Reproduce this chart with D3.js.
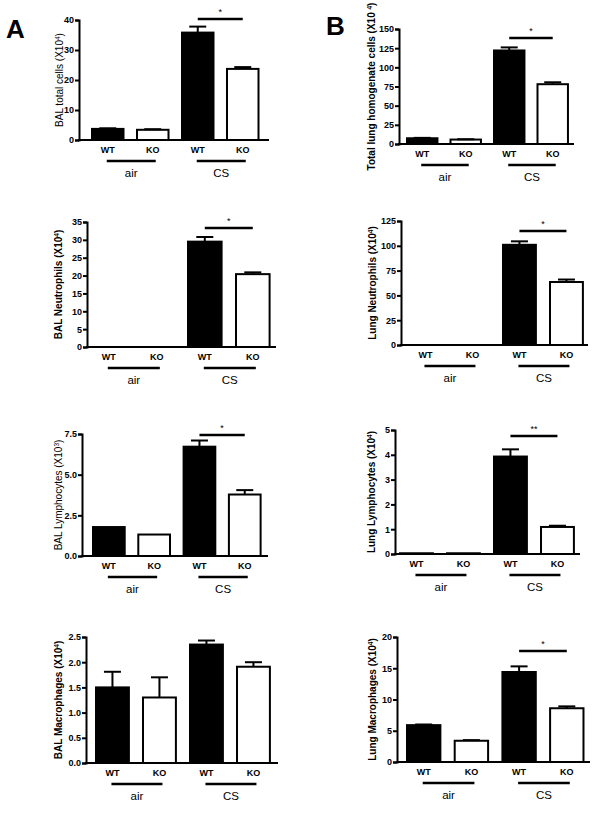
<!DOCTYPE html>
<html>
<head>
<meta charset="utf-8">
<script src="https://cdn.jsdelivr.net/npm/d3@7"></script>
<style>
  body { margin: 0; background: #fff; }
  svg { font-family: "Liberation Sans", Arial, sans-serif; }
</style>
</head>
<body>
<div id="fig"></div>
<script>
// categories
var groups = ["WT-air", "KO-air", "WT-CS", "KO-CS"];
var genotypes = ["WT", "KO", "WT", "KO"];
var exposures = ["air", "CS"];

// values (mean) and upper error (mean + SEM)
var balTotal = [3.7, 3.4, 35.8, 23.7];
var balTotalErr = [3.9, 3.6, 37.8, 24.3];
var lungTotal = [7.5, 5.8, 122, 78];
var lungTotalErr = [8, 6.2, 126, 80.5];
var balNeut = [0, 0, 29.5, 20.4];
var balNeutErr = [0, 0, 30.8, 20.9];
var lungNeut = [0, 0, 101, 63.5];
var lungNeutErr = [0, 0, 104.5, 66];
var balLymph = [1.78, 1.32, 6.72, 3.78];
var balLymphErr = [1.78, 1.32, 7.1, 4.05];
var lungLymph = [0.03, 0.03, 3.93, 1.09];
var lungLymphErr = [0.03, 0.03, 4.22, 1.14];
var balMac = [1.5, 1.3, 2.35, 1.91];
var balMacErr = [1.81, 1.7, 2.43, 2.0];
var lungMac = [5.9, 3.4, 14.4, 8.6];
var lungMacErr = [6.0, 3.5, 15.3, 8.9];

// tick labels
var ticksTotalBal = [0, 10, 20, 30, 40];
var ticksTotalLung = [0, 25, 50, 75, 100, 125, 150];
var ticksNeutBal = [0, 5, 10, 15, 20, 25, 30, 35];
var ticksNeutLung = [0, 25, 50, 75, 100, 125];
var ticksLymphBal = [0, 2.5, 5, 7.5];
var ticksLymphLung = [0, 1, 2, 3, 4, 5];
var ticksMacBal = [0, 0.5, 1, 1.5, 2, 2.5];
var ticksMacLung = [0, 5, 10, 15, 20];

var svg = d3.select("#fig").append("svg")
    .attr("width", 600)
    .attr("height", 813);

// panel letters
svg.append("text").attr("x", 6).attr("y", 38)
    .style("font-size", "26px").style("font-weight", "bold").text("A");
svg.append("text").attr("x", 326).attr("y", 35)
    .style("font-size", "26px").style("font-weight", "bold").text("B");

var panels = [
  { vals: balTotal, err: balTotalErr, ticks: ticksTotalBal, fmt: "d",
    label: "BAL total cells (X10", sup: "4", bold: false,
    left: 79, top: 20, bottom: 140, right: 269, bar0: 92, step: 45,
    labX: 60, sig: "*", sigY: 19 },
  { vals: lungTotal, err: lungTotalErr, ticks: ticksTotalLung, fmt: "d",
    label: "Total lung homogenate cells (X10 ", sup: "4", bold: true,
    left: 399, top: 29, bottom: 144, right: 574, bar0: 407, step: 43.5,
    labX: 372, sig: "*", sigY: 38 },
  { vals: balNeut, err: balNeutErr, ticks: ticksNeutBal, fmt: "d",
    label: "BAL Neutrophils (X10", sup: "4", bold: true,
    left: 87, top: 222, bottom: 347, right: 276, bar0: 92, step: 48,
    labX: 59, sig: "*", sigY: 228 },
  { vals: lungNeut, err: lungNeutErr, ticks: ticksNeutLung, fmt: "d",
    label: "Lung Neutrophils (X10", sup: "4", bold: true,
    left: 401, top: 221, bottom: 345, right: 588, bar0: 409, step: 47,
    labX: 373, sig: "*", sigY: 231 },
  { vals: balLymph, err: balLymphErr, ticks: ticksLymphBal, fmt: ".1f",
    label: "BAL Lymphocytes (X10", sup: "3", bold: false,
    left: 82, top: 434, bottom: 556, right: 268, bar0: 93, step: 45.3,
    labX: 59, sig: "*", sigY: 435 },
  { vals: lungLymph, err: lungLymphErr, ticks: ticksLymphLung, fmt: "d",
    label: "Lung Lymphocytes (X10", sup: "4", bold: true,
    left: 395, top: 430, bottom: 554, right: 580, bar0: 400, step: 47,
    labX: 372, sig: "**", sigY: 436 },
  { vals: balMac, err: balMacErr, ticks: ticksMacBal, fmt: ".1f",
    label: "BAL Macrophages (X10", sup: "4", bold: true,
    left: 86, top: 637, bottom: 763, right: 278, bar0: 96, step: 47,
    labX: 59, sig: null, sigY: 0 },
  { vals: lungMac, err: lungMacErr, ticks: ticksMacLung, fmt: "d",
    label: "Lung Macrophages (X10", sup: "4", bold: true,
    left: 397, top: 637, bottom: 762, right: 590, bar0: 407, step: 47.7,
    labX: 373, sig: "*", sigY: 651 }
];

var pIn = 0.3, pOut = 0.15;

panels.forEach(function (p) {
  var g = svg.append("g");

  var y = d3.scaleLinear()
      .domain([0, d3.max(p.ticks)])
      .range([p.bottom, p.top]);

  var r0 = p.bar0 - p.step * pOut;
  var x = d3.scaleBand()
      .domain(groups)
      .range([r0, r0 + p.step * (groups.length - pIn + 2 * pOut)])
      .paddingInner(pIn)
      .paddingOuter(pOut);
  var bw = x.bandwidth();
  var cx = function (d) { return x(d) + bw / 2; };

  // bars
  g.selectAll("rect.bar")
    .data(groups)
    .enter().append("rect")
    .attr("x", d => x(d))
    .attr("width", bw)
    .attr("y", (d, i) => y(p.vals[i]))
    .attr("height", (d, i) => Math.max(0, p.bottom - y(p.vals[i])))
    .attr("fill", (d, i) => i % 2 === 0 ? "#000" : "#fff")
    .attr("stroke", "#000")
    .attr("stroke-width", 2);

  // error bars (upper only)
  groups.forEach(function (d, i) {
    if (p.err[i] - p.vals[i] <= 0) return;
    g.append("line")
      .attr("x1", cx(d)).attr("x2", cx(d))
      .attr("y1", y(p.vals[i])).attr("y2", y(p.err[i]))
      .attr("stroke", "#000").attr("stroke-width", 2);
    g.append("line")
      .attr("x1", cx(d) - 8.5).attr("x2", cx(d) + 8.5)
      .attr("y1", y(p.err[i])).attr("y2", y(p.err[i]))
      .attr("stroke", "#000").attr("stroke-width", 2);
  });

  // y axis
  var yAxis = g.append("g")
    .attr("transform", "translate(" + p.left + ",0)")
    .call(d3.axisLeft(y).tickValues(p.ticks).tickSize(4).tickPadding(1)
      .tickFormat(d3.format(p.fmt)));
  yAxis.select(".domain").attr("stroke-width", 2);
  yAxis.selectAll(".tick line").attr("stroke-width", 2);
  yAxis.selectAll("text")
    .style("font-size", "9px").style("font-weight", "bold")
    .style("font-family", "Liberation Sans, Arial, sans-serif");

  // x axis
  g.append("line")
    .attr("x1", p.left - 1).attr("x2", p.right)
    .attr("y1", p.bottom).attr("y2", p.bottom)
    .attr("stroke", "#000").attr("stroke-width", 2);

  var xAxis = g.append("g")
    .attr("transform", "translate(0," + p.bottom + ")")
    .call(d3.axisBottom(x).tickSize(0).tickPadding(7)
      .tickFormat((d, i) => genotypes[i]));
  xAxis.select(".domain").remove();
  xAxis.selectAll("text")
    .style("font-size", "9px").style("font-weight", "bold")
    .style("font-family", "Liberation Sans, Arial, sans-serif");

  // exposure group lines
  exposures.forEach(function (e, k) {
    var a = groups[2 * k], b = groups[2 * k + 1];
    var gy = p.bottom + 21;
    g.append("line")
      .attr("x1", cx(a) - 1).attr("x2", cx(b) + 3)
      .attr("y1", gy).attr("y2", gy)
      .attr("stroke", "#000").attr("stroke-width", 2.5);
    g.append("text")
      .attr("x", (cx(a) + cx(b)) / 2 + 1)
      .attr("y", gy + 16)
      .attr("text-anchor", "middle")
      .style("font-size", "11.5px")
      .text(e);
  });

  // significance line
  if (p.sig) {
    g.append("line")
      .attr("x1", cx(groups[2])).attr("x2", cx(groups[3]))
      .attr("y1", p.sigY).attr("y2", p.sigY)
      .attr("stroke", "#000").attr("stroke-width", 2.5);
    g.append("text")
      .attr("x", (cx(groups[2]) + cx(groups[3])) / 2)
      .attr("y", p.sigY - 4)
      .attr("text-anchor", "middle")
      .style("font-size", "9px")
      .text(p.sig);
  }

  // y label
  var cy = (p.top + p.bottom) / 2;
  var lab = g.append("text")
    .attr("transform", "translate(" + (p.labX + 3) + "," + cy + ") rotate(-90)")
    .attr("text-anchor", "middle")
    .style("font-size", "10px")
    .style("font-weight", p.bold ? "bold" : "normal");
  lab.append("tspan").text(p.label);
  lab.append("tspan").attr("baseline-shift", "super").style("font-size", "6.5px").text(p.sup);
  lab.append("tspan").text(")");
});
</script>
</body>
</html>
